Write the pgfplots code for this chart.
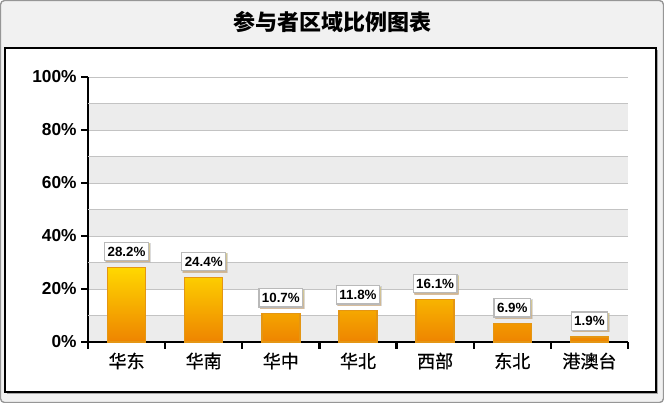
\documentclass[border=0pt]{standalone}
\usepackage{fontspec}
\setmainfont{Liberation Sans}
\newfontfamily\cjk{Noto Sans CJK SC}
\newfontfamily\cjkm[FakeBold=0.6]{Noto Sans CJK SC}
\usepackage{pgfplots}
\pgfplotsset{compat=1.18}
\usetikzlibrary{shadows}

\definecolor{bandgray}{RGB}{236,236,236}
\definecolor{gridgray}{RGB}{195,195,195}
\definecolor{bartop}{RGB}{255,216,0}
\definecolor{barbot}{RGB}{238,132,0}
\definecolor{barline}{RGB}{228,150,20}
\definecolor{framegray}{RGB}{150,150,150}
\definecolor{titlebg}{RGB}{241,241,241}

\begin{document}
\begin{tikzpicture}
% outer frame and title band
\draw[framegray, line width=1pt, rounded corners=3pt, fill=titlebg]
  (-65.6pt,-45.4pt) rectangle (431.6pt,256.1pt);
% inner panel with shadow
\fill[gray!70] (-60.75pt,-39pt) rectangle (427.5pt,219pt);
\draw[black, line width=1.5pt, fill=white] (-62.25pt,-37.5pt) rectangle (426pt,220.5pt);
\node[font=\cjk\bfseries\fontsize{16.5}{19}\selectfont] at (183pt,240pt) {参与者区域比例图表};
% alternating bands behind the plot area (0-10, 20-30, ... of 100 = 198.75pt)
\foreach \b in {0,39.75,79.5,119.25,159}
  \fill[bandgray] (0pt,\b pt) rectangle (405pt,\b pt+19.875pt);

\begin{axis}[
    at={(0,0)}, anchor=south west,
    scale only axis,
    width=405pt, height=198.75pt,
    xmin=-0.5, xmax=6.5, ymin=0, ymax=100,
    axis lines*=left,
    axis line style={black, line width=1.8pt},
    tick align=outside,
    major tick length=5pt,
    tick style={black, line width=1.8pt},
    /pgf/number format/assume math mode=true,
    ytick={0,20,...,100},
    yticklabel={\pgfmathprintnumber{\tick}\%},
    yticklabel style={font=\bfseries\fontsize{13}{13}\selectfont},
    ymajorgrids,
    grid style={gridgray, line width=0.7pt},
    extra y ticks={10,30,...,90},
    extra y tick labels={},
    extra y tick style={grid=major, tick style={draw=none}},
    xtick={-0.5,0.5,...,6.5},
    xticklabels={},
    extra x ticks={0,1,...,6},
    extra x tick labels={华东,华南,华中,华北,西部,东北,港澳台},
    extra x tick style={tick style={draw=none},
      xticklabel style={font=\cjkm\fontsize{13.5}{14}\selectfont, yshift=0.5pt}},
    clip=false,
  ]
\addplot[ybar, bar width=28.5pt, draw=barline, line width=1pt,
    top color=bartop, bottom color=barbot,
    nodes near coords={\pgfmathprintnumber[fixed,fixed zerofill,precision=1]{\pgfplotspointmeta}\%},
    nodes near coords style={font=\bfseries\fontsize{10}{10}\selectfont,
      draw=gray!55, fill=white, inner xsep=2.3pt, inner ysep=3.3pt,
      drop shadow={shadow xshift=1pt, shadow yshift=-1pt, fill=gray!45},
      anchor=south, yshift=4.5pt, text=black},
  ] coordinates {
  (0,28.2) (1,24.4) (2,10.7) (3,11.8) (4,16.1) (5,6.9) (6,1.9)
};
\end{axis}
\pgfresetboundingbox
\useasboundingbox (-66pt,-45.75pt) rectangle (432pt,256.5pt);
\end{tikzpicture}
\end{document}
